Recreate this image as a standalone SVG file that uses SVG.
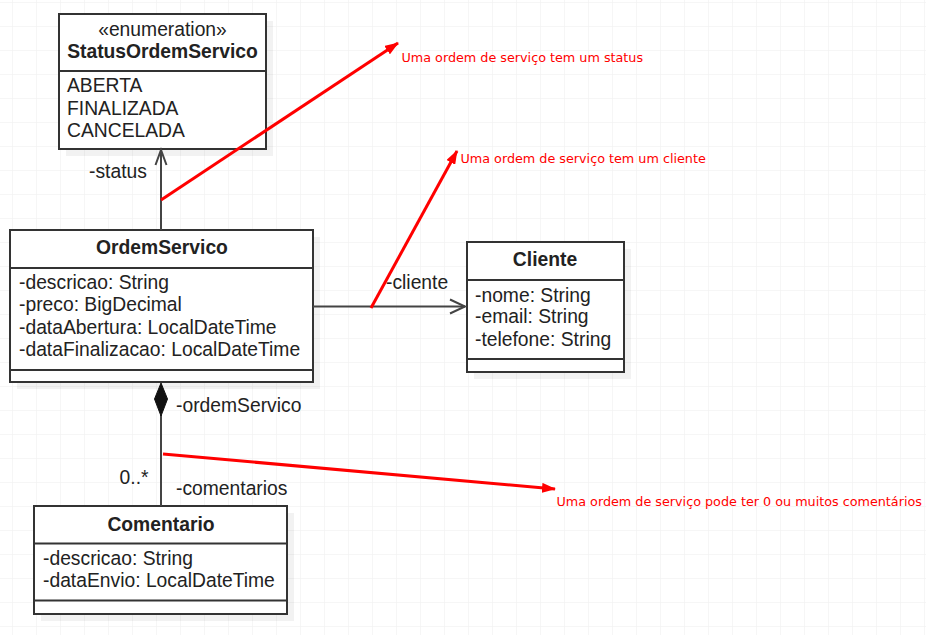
<svg xmlns="http://www.w3.org/2000/svg" width="926" height="635" viewBox="0 0 926 635">
<defs>
<pattern id="grid" x="12" y="2" width="24" height="24" patternUnits="userSpaceOnUse">
<path d="M0,0 H24 M0,0 V24" fill="none" stroke="#eeeeee" stroke-width="1"/>
</pattern>
<marker id="redhead" viewBox="0 0 14 10" refX="13" refY="5" markerWidth="14" markerHeight="10" markerUnits="userSpaceOnUse" orient="auto">
<path d="M0,0 L14,5 L0,10 z" fill="#ff0000"/>
</marker>
</defs>
<style>
.box{fill:#ffffff;stroke:#333333;stroke-width:2}
.shadow{fill:#000000;opacity:0.05}
.div{stroke:#333333;stroke-width:2}
.t{font-family:"Liberation Sans",Arial,sans-serif;font-size:19.3px;fill:#222222}
.b{font-weight:bold}
.c{text-anchor:middle}
.conn{fill:none;stroke:#444444;stroke-width:2}
.red{fill:none;stroke:#ff0000;stroke-width:3;marker-end:url(#redhead)}
.note{font-family:"DejaVu Sans",Verdana,sans-serif;font-size:12.75px;fill:#ff0000}
</style>
<rect width="926" height="635" fill="#ffffff"/>
<rect width="926" height="635" fill="url(#grid)"/>

<g id="StatusOrdemServico">
<rect class="shadow" x="66" y="21" width="207" height="135"/>
<rect class="box" x="59" y="14" width="207" height="135"/>
<line class="div" x1="59" y1="71" x2="266" y2="71"/>
<text class="t c" x="162.5" y="36">«enumeration»</text>
<text class="t b c" x="162.5" y="58">StatusOrdemServico</text>
<text class="t" x="67" y="92">ABERTA</text>
<text class="t" x="67" y="114.5">FINALIZADA</text>
<text class="t" x="67" y="137">CANCELADA</text>
</g>

<g id="OrdemServico">
<rect class="shadow" x="17" y="237" width="303" height="152"/>
<rect class="box" x="10" y="230" width="303" height="152"/>
<line class="div" x1="10" y1="268" x2="313" y2="268"/>
<line class="div" x1="10" y1="370" x2="313" y2="370"/>
<text class="t b c" x="162" y="254">OrdemServico</text>
<text class="t" x="19" y="289">-descricao: String</text>
<text class="t" x="19" y="311">-preco: BigDecimal</text>
<text class="t" x="19" y="333.5">-dataAbertura: LocalDateTime</text>
<text class="t" x="19" y="355.5">-dataFinalizacao: LocalDateTime</text>
</g>

<g id="Cliente">
<rect class="shadow" x="474" y="249" width="157" height="130"/>
<rect class="box" x="467" y="242" width="157" height="130"/>
<line class="div" x1="467" y1="280" x2="624" y2="280"/>
<line class="div" x1="467" y1="359" x2="624" y2="359"/>
<text class="t b c" x="545" y="266">Cliente</text>
<text class="t" x="475" y="301.5">-nome: String</text>
<text class="t" x="475" y="323">-email: String</text>
<text class="t" x="475" y="345.5">-telefone: String</text>
</g>

<g id="Comentario">
<rect class="shadow" x="41" y="513" width="253" height="108"/>
<rect class="box" x="34" y="506" width="253" height="108"/>
<line class="div" x1="34" y1="543.5" x2="287" y2="543.5"/>
<line class="div" x1="34" y1="600.5" x2="287" y2="600.5"/>
<text class="t b c" x="161" y="530.5">Comentario</text>
<text class="t" x="43" y="565">-descricao: String</text>
<text class="t" x="43" y="587">-dataEnvio: LocalDateTime</text>
</g>

<g id="connectors">
<line class="conn" x1="161" y1="230" x2="161" y2="150"/>
<path class="conn" d="M155.5,165 L161,150 L166.5,165"/>
<text class="t" x="89" y="178">-status</text>

<line class="conn" x1="313" y1="306.5" x2="465" y2="306.5"/>
<path class="conn" d="M450,299.5 L465,306.5 L450,313.5"/>
<text class="t" x="386" y="288.5">-cliente</text>

<line class="conn" x1="161" y1="415" x2="161" y2="506"/>
<path d="M161,383 L167.5,399 L161,416 L154.5,399 z" fill="#111111" stroke="#111111" stroke-width="1"/>
<text class="t" x="176" y="411.5">-ordemServico</text>
<text class="t" x="148.5" y="483.5" text-anchor="end">0..*</text>
<text class="t" x="176" y="494.5">-comentarios</text>
</g>

<g id="annotations">
<line class="red" x1="161" y1="200" x2="398" y2="43"/>
<text class="note" x="401.5" y="62">Uma ordem de serviço tem um status</text>
<line class="red" x1="371" y1="308" x2="457" y2="151"/>
<text class="note" x="460.5" y="162.5">Uma ordem de serviço tem um cliente</text>
<line class="red" x1="163" y1="454" x2="555" y2="489"/>
<text class="note" x="556.5" y="506">Uma ordem de serviço pode ter 0 ou muitos comentários</text>
</g>
</svg>
